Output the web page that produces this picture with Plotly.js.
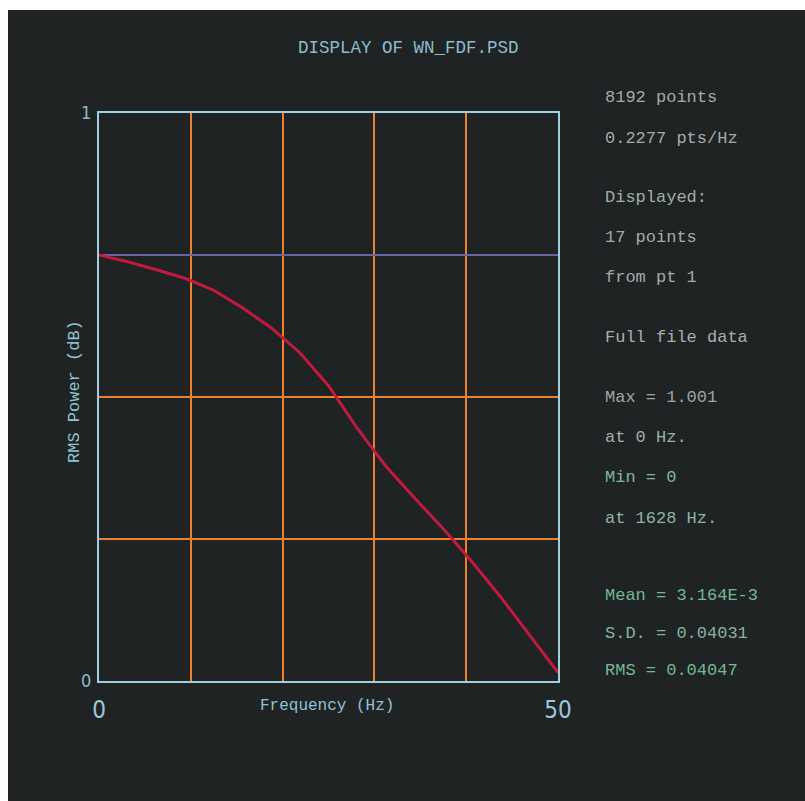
<!DOCTYPE html>
<html>
<head>
<meta charset="utf-8">
<script src="https://cdn.plot.ly/plotly-3.0.1.min.js"></script>
<style>
  html, body { margin: 0; padding: 0; background: #ffffff; width: 805px; height: 801px; overflow: hidden; }
  #chart { position: absolute; left: 8px; top: 10px; width: 797px; height: 791px; }
</style>
</head>
<body>
<div id="chart"></div>
<script>
// ---- data ----
const freqHz = [0, 3.125, 6.25, 9.375, 12.5, 15.625, 18.75, 21.875, 25, 28.125, 31.25, 34.375, 37.5, 40.625, 43.75, 46.875, 50];
const rmsPower = [0.75, 0.738, 0.724, 0.709, 0.688, 0.657, 0.622, 0.578, 0.52, 0.445, 0.378, 0.322, 0.268, 0.21, 0.148, 0.082, 0.015];
const refLevel = 0.75;
const xRange = [0, 50];
const yRange = [0, 1];
const xTickVals = [0, 50];
const xTickText = ['0', '50'];
const yTickVals = [0, 1];
const yTickText = ['0', '1'];
const xGridVals = [10, 20, 30, 40];
const yGridVals = [0.25, 0.5];
const titleText = 'DISPLAY OF WN_FDF.PSD';
const xTitle = 'Frequency (Hz)';
const yTitle = 'RMS Power (dB)';
const infoLines = ['8192 points', '0.2277 pts/Hz', 'Displayed:', '17 points', 'from pt 1', 'Full file data',
                   'Max = 1.001', 'at 0 Hz.', 'Min = 0', 'at 1628 Hz.', 'Mean = 3.164E-3', 'S.D. = 0.04031', 'RMS = 0.04047'];

// ---- layout helpers (page pixels -> paper coords) ----
const PL = 99, PR = 558, PT = 113, PB = 681;
const px2x = p => (p - PL) / (PR - PL);
const py2y = p => (PB - p) / (PB - PT);
const infoY = [97, 138, 197, 237, 277, 337, 397, 437, 477, 518, 595, 633, 670];
const infoColors = ['#a3aca6', '#a3aca6', '#9fb0a6', '#a3aca6', '#a3aca6', '#a8b0ac',
                    '#9aaaa2', '#9fb0a6', '#7fb89c', '#8fb4a2', '#74b896', '#86b4a0', '#74b896'];

const FONT = 'Liberation Mono, DejaVu Sans Mono, monospace';
const BG = '#1f2324';
const FRAME = '#9fcfe0';
const ORANGE = '#ea8230';

const traces = [
  { x: xRange, y: [refLevel, refLevel], mode: 'lines', line: { color: '#6c62a6', width: 2 }, hoverinfo: 'skip', showlegend: false },
  { x: freqHz, y: rmsPower, mode: 'lines', line: { color: '#c21a3e', width: 3 }, showlegend: false }
];

const annotations = [
  { text: titleText, xref: 'paper', yref: 'paper', x: px2x(408), y: py2y(48), xanchor: 'center', yanchor: 'middle',
    showarrow: false, font: { family: FONT, size: 17.5, color: '#8fbccc' } },
  { text: xTitle, xref: 'paper', yref: 'paper', x: px2x(327), y: py2y(706), xanchor: 'center', yanchor: 'middle',
    showarrow: false, font: { family: FONT, size: 16, color: '#8fc4d4' } },
  { text: yTitle, xref: 'paper', yref: 'paper', x: px2x(74), y: py2y(392), xanchor: 'center', yanchor: 'middle',
    textangle: -90, showarrow: false, font: { family: FONT, size: 17, color: '#8fc4d4' } }
];
infoLines.forEach((t, i) => {
  annotations.push({ text: t, xref: 'paper', yref: 'paper', x: px2x(603), y: py2y(infoY[i]), xanchor: 'left', yanchor: 'middle',
    showarrow: false, font: { family: FONT, size: 17, color: infoColors[i] } });
});

const layout = {
  width: 797, height: 791,
  margin: { l: PL - 8, r: 805 - PR, t: PT - 10, b: 801 - PB, pad: 0 },
  paper_bgcolor: BG, plot_bgcolor: BG,
  showlegend: false,
  xaxis: {
    range: xRange, tickmode: 'array', tickvals: xTickVals, ticktext: xTickText,
    showgrid: false, zeroline: false, showline: true, mirror: true, linecolor: FRAME, linewidth: 2,
    ticks: 'outside', ticklen: 6, tickcolor: 'rgba(0,0,0,0)',
    tickfont: { family: 'DejaVu Sans Condensed, DejaVu Sans, sans-serif', size: 24, color: '#9cc8dc' },
    minor: { tickmode: 'array', tickvals: xGridVals, showgrid: true, gridcolor: ORANGE, gridwidth: 2, ticks: '' },
    fixedrange: true
  },
  yaxis: {
    range: yRange, tickmode: 'array', tickvals: yTickVals, ticktext: yTickText,
    showgrid: false, zeroline: false, showline: true, mirror: true, linecolor: FRAME, linewidth: 2,
    ticks: 'outside', ticklen: 2, tickcolor: 'rgba(0,0,0,0)',
    tickfont: { family: 'DejaVu Sans Condensed, DejaVu Sans, sans-serif', size: 18, color: '#8fb8cc' },
    minor: { tickmode: 'array', tickvals: yGridVals, showgrid: true, gridcolor: ORANGE, gridwidth: 2, ticks: '' },
    fixedrange: true
  },
  annotations: annotations
};

Plotly.newPlot('chart', traces, layout, { displayModeBar: false, staticPlot: true });
</script>
</body>
</html>
